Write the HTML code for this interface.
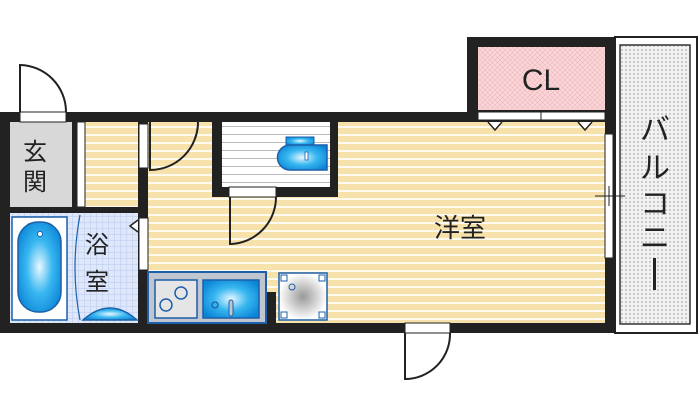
<!DOCTYPE html>
<html><head><meta charset="utf-8"><style>
body{margin:0;background:#fff;width:700px;height:415px;overflow:hidden}
svg{display:block}
text{font-family:"Liberation Sans","Noto Sans CJK JP",sans-serif;fill:#222}
</style></head><body>
<svg width="700" height="415" viewBox="0 0 700 415">
<defs>
<pattern id="fl" width="8" height="8" patternUnits="userSpaceOnUse"><rect width="8" height="8" fill="#f7e2ab"/><rect y="6" width="8" height="2" fill="#fffaf0"/></pattern>
<pattern id="tl" width="6" height="6" patternUnits="userSpaceOnUse"><rect width="6" height="6" fill="#dfe8fb"/><path d="M0 0H6M0 0V6" stroke="#b7c8ee" stroke-width="1"/></pattern>
<pattern id="tr" width="8" height="8" patternUnits="userSpaceOnUse"><rect width="8" height="8" fill="#fff"/><rect y="6" width="8" height="1" fill="#bbb"/></pattern>
<pattern id="pk" width="5" height="5" patternUnits="userSpaceOnUse"><rect width="5" height="5" fill="#f9d7d9"/><path d="M0 0L5 5M5 0L0 5" stroke="#f1b7bb" stroke-width=".6"/></pattern>
<pattern id="dt" width="4" height="4" patternUnits="userSpaceOnUse"><rect width="4" height="4" fill="#f2f2f2"/><circle cx="2" cy="2" r="1" fill="#bdbdbd"/></pattern>
<radialGradient id="bl" cx="50%" cy="50%" r="60%"><stop offset="0" stop-color="#e8f8ff"/><stop offset=".5" stop-color="#39b7f0"/><stop offset="1" stop-color="#0a86d8"/></radialGradient>
<radialGradient id="gr"><stop offset="0" stop-color="#999"/><stop offset="1" stop-color="#fff"/></radialGradient>
</defs>
<!-- balcony -->
<rect x="615" y="37" width="82" height="296" fill="#fff" stroke="#222" stroke-width="2"/>
<rect x="620" y="45" width="70" height="279" fill="url(#dt)" stroke="#333" stroke-width="1.5"/>
<g font-size="30" text-anchor="middle">
<text x="655" y="140">バ</text>
<text x="655" y="178">ル</text>
<text x="655" y="214">コ</text>
<text x="655" y="248">ニ</text>
</g>
<rect x="653" y="258" width="3" height="32" fill="#222"/>
<!-- walls block -->
<rect x="0" y="112" width="615" height="221" fill="#222"/>
<rect x="467" y="37" width="148" height="90" fill="#222"/>
<!-- CL -->
<rect x="478" y="47" width="127" height="63" fill="url(#pk)"/>
<text x="541" y="90" font-size="30" text-anchor="middle">CL</text>
<rect x="478" y="112" width="63" height="8" fill="#fff" stroke="#222"/><rect x="541" y="112" width="64" height="8" fill="#fff" stroke="#222"/>
<!-- floors -->
<rect x="85" y="122" width="520" height="201" fill="url(#fl)"/>
<rect x="10" y="122" width="138" height="201" fill="url(#fl)"/>
<rect x="138" y="122" width="10" height="201" fill="#222"/>
<path d="M488 122l7 8 7-8M578 122l7 8 7-8" fill="#fff" stroke="#222" stroke-width="1.5"/>
<!-- genkan -->
<rect x="10" y="122" width="63" height="85" fill="#d8d8d8"/>
<rect x="72" y="122" width="6" height="85" fill="#222"/>
<rect x="77" y="122" width="8" height="85" fill="#fff" stroke="#222"/>
<text x="35" y="160" font-size="24" text-anchor="middle">玄</text>
<text x="35" y="190" font-size="24" text-anchor="middle">関</text>
<rect x="10" y="207" width="130" height="6" fill="#222"/>
<!-- entry door -->
<rect x="20" y="112" width="46" height="10" fill="#fff" stroke="#222"/>
<path d="M20 112V65A47 47 0 0 1 66 112" fill="none" stroke="#222" stroke-width="2"/>
<!-- bath -->
<rect x="10" y="213" width="128" height="110" fill="url(#tl)"/>
<rect x="12" y="217" width="55" height="103" fill="#fff" stroke="#1d5fa8" stroke-width="1.5"/>
<rect x="18" y="222" width="43" height="90" rx="20" fill="url(#bl)" stroke="#1d5fa8" stroke-width="1.5"/>
<circle cx="40" cy="234" r="2.5" fill="#fff" stroke="#1d5fa8"/>
<path d="M80 215Q70 268 80 320" fill="none" stroke="#1d5fa8" stroke-width="1.2"/>
<path d="M83 320Q110 296 137 320Z" fill="url(#bl)" stroke="#1d5fa8" stroke-width="1.5"/>
<text x="97" y="253" font-size="24" text-anchor="middle">浴</text>
<text x="97" y="290" font-size="24" text-anchor="middle">室</text>
<rect x="139" y="218" width="9" height="52" fill="#fff" stroke="#222"/>
<path d="M138 220l-8 6 8 6" fill="#fff" stroke="#222" stroke-width="1.5"/>
<!-- hall door -->
<rect x="139" y="124" width="9" height="44" fill="#fff" stroke="#222"/>
<path d="M150 122V170A48 48 0 0 0 198 122" fill="none" stroke="#222" stroke-width="2"/>
<!-- toilet -->
<rect x="212" y="122" width="126" height="75" fill="#222"/>
<rect x="222" y="122" width="108" height="65" fill="url(#tr)"/>
<rect x="286" y="137" width="28" height="8" fill="url(#bl)" stroke="#1d5fa8"/>
<path d="M290 145H327V170H290A12.5 12.5 0 0 1 290 145Z" fill="url(#bl)" stroke="#1d5fa8" stroke-width="1.5"/>
<rect x="305" y="152" width="3" height="8" fill="#fff" stroke="#1d5fa8" stroke-width=".8"/>
<rect x="229" y="187" width="47" height="10" fill="#fff" stroke="#222"/>
<path d="M230 197V244A47 47 0 0 0 276 197" fill="none" stroke="#222" stroke-width="2"/>
<!-- kitchen -->
<rect x="266" y="292" width="10" height="31" fill="#222"/>
<rect x="148" y="272" width="118" height="51" fill="#bfc6cf" stroke="#1d5fa8" stroke-width="2"/>
<rect x="155" y="280" width="42" height="38" fill="#e5e5e5" stroke="#1d5fa8" stroke-width="1.5"/>
<circle cx="166" cy="305" r="6" fill="none" stroke="#1d5fa8" stroke-width="1.5"/>
<circle cx="181" cy="293" r="6" fill="none" stroke="#1d5fa8" stroke-width="1.5"/>
<rect x="203" y="280" width="56" height="38" fill="url(#bl)" stroke="#1d5fa8" stroke-width="1.5"/>
<circle cx="215" cy="305" r="3" fill="none" stroke="#1d5fa8" stroke-width="1.3"/>
<rect x="229" y="300" width="4" height="16" rx="2" fill="#bfc6cf" stroke="#1d5fa8"/>
<rect x="279" y="273" width="48" height="47" fill="url(#gr)" stroke="#1d5fa8" stroke-width="1.5"/>
<rect x="281" y="275" width="6" height="6" fill="none" stroke="#1d5fa8"/><rect x="319" y="275" width="6" height="6" fill="none" stroke="#1d5fa8"/>
<rect x="281" y="312" width="6" height="6" fill="none" stroke="#1d5fa8"/><rect x="319" y="312" width="6" height="6" fill="none" stroke="#1d5fa8"/>
<circle cx="292" cy="287" r="3" fill="none" stroke="#1d5fa8"/>
<!-- main room -->
<text x="460" y="237" font-size="26" text-anchor="middle">洋室</text>
<rect x="605" y="134" width="8" height="124" fill="#fff" stroke="#222"/>
<path d="M595 196H625M609 186V206" stroke="#222" stroke-width="1"/>
<!-- bottom door -->
<rect x="405" y="323" width="45" height="10" fill="#fff" stroke="#222"/>
<path d="M405 333V379A45 45 0 0 0 450 333" fill="none" stroke="#222" stroke-width="2"/>
</svg>
</body></html>
